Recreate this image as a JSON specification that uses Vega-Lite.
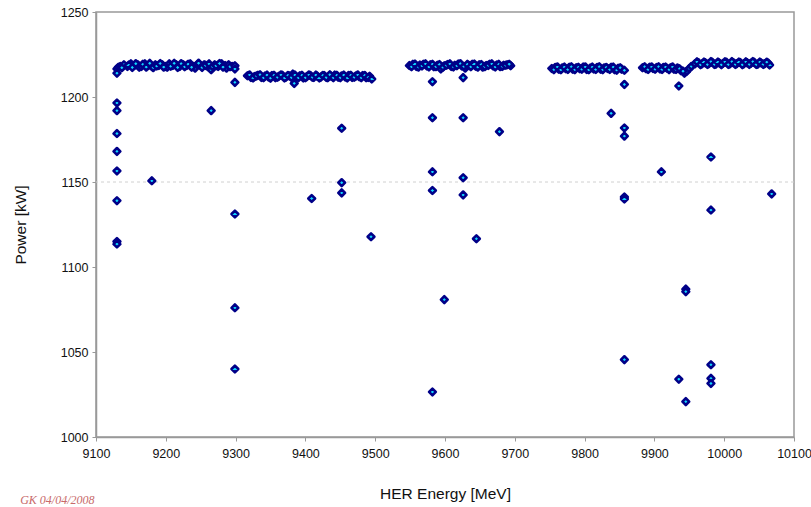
{
  "$schema": "https://vega.github.io/schema/vega-lite/v6.json",
  "width": 698,
  "height": 425,
  "autosize": {"type": "none"},
  "padding": {"left": 96, "top": 12, "right": 17, "bottom": 70},
  "background": "white",
  "config": {
    "view": {"stroke": "#999999", "strokeWidth": 1.5},
    "font": "Liberation Sans",
    "axis": {
      "domainColor": "#999999", "domainWidth": 1.5, "tickColor": "#999999", "tickSize": 4,
      "labelFontSize": 12.5, "labelColor": "#111111", "titleFontSize": 15.5, "titleFontWeight": "normal",
      "titleColor": "#111111", "grid": false
    }
  },
  "title": {
    "text": "GK 04/04/2008", "orient": "bottom", "anchor": "start", "frame": "bounds",
    "offset": -7, "dx": 7, "baseline": "top", "fontSize": 12, "fontStyle": "italic", "fontWeight": "normal",
    "color": "#c86a6a", "font": "Liberation Serif"
  },
  "datasets": {
    "pts": [
      {"e":9130,"p":1216.5},{"e":9132,"p":1217.5},{"e":9135,"p":1218},{"e":9140,"p":1219},{"e":9145,"p":1218},{"e":9150,"p":1219.5},{"e":9155,"p":1218.5},{"e":9160,"p":1219},{"e":9162,"p":1217.5},{"e":9165,"p":1218},{"e":9170,"p":1219.5},{"e":9175,"p":1218.5},{"e":9180,"p":1218},{"e":9185,"p":1219},{"e":9190,"p":1218.5},{"e":9195,"p":1219},{"e":9200,"p":1218},{"e":9202,"p":1217.5},{"e":9205,"p":1219.5},{"e":9210,"p":1218.5},{"e":9215,"p":1219},{"e":9220,"p":1218},{"e":9225,"p":1219},{"e":9230,"p":1218.5},{"e":9235,"p":1219.5},{"e":9240,"p":1218},{"e":9242,"p":1217},{"e":9245,"p":1219},{"e":9250,"p":1218.5},{"e":9255,"p":1219},{"e":9260,"p":1218},{"e":9265,"p":1216},{"e":9270,"p":1219},{"e":9275,"p":1218},{"e":9280,"p":1219.5},{"e":9285,"p":1218.5},{"e":9287,"p":1217},{"e":9290,"p":1219},{"e":9295,"p":1218},
      {"e":9137,"p":1217.2},{"e":9147,"p":1218.8},{"e":9152,"p":1217.4},{"e":9157,"p":1219.6},{"e":9167,"p":1219.2},{"e":9172,"p":1217.6},{"e":9177,"p":1219.8},{"e":9182,"p":1217.3},{"e":9187,"p":1218.2},{"e":9192,"p":1219.7},{"e":9197,"p":1217.6},{"e":9207,"p":1218.1},{"e":9212,"p":1219.8},{"e":9217,"p":1217.4},{"e":9222,"p":1219.6},{"e":9227,"p":1217.8},{"e":9232,"p":1219.3},{"e":9237,"p":1217.5},{"e":9247,"p":1219.9},{"e":9252,"p":1217.4},{"e":9257,"p":1218.6},{"e":9262,"p":1219.5},{"e":9267,"p":1217.8},{"e":9272,"p":1218.4},{"e":9277,"p":1219.7},{"e":9282,"p":1217.6},{"e":9292,"p":1217.8},
      {"e":9317,"p":1212.5},{"e":9322,"p":1211.5},{"e":9327,"p":1212},{"e":9332,"p":1212.8},{"e":9337,"p":1211.5},{"e":9342,"p":1212.3},{"e":9347,"p":1211.8},{"e":9352,"p":1212.6},{"e":9357,"p":1211.4},{"e":9362,"p":1212.2},{"e":9367,"p":1212.8},{"e":9372,"p":1211.6},{"e":9377,"p":1212.4},{"e":9382,"p":1213.5},{"e":9387,"p":1211.8},{"e":9392,"p":1212.5},{"e":9397,"p":1211.2},{"e":9402,"p":1212},{"e":9407,"p":1212.7},{"e":9412,"p":1211.5},{"e":9417,"p":1212.3},{"e":9422,"p":1211.7},{"e":9427,"p":1212.6},{"e":9432,"p":1211.3},{"e":9437,"p":1212.2},{"e":9442,"p":1212.9},{"e":9447,"p":1211.6},{"e":9452,"p":1212.4},{"e":9457,"p":1211.8},{"e":9462,"p":1212.7},{"e":9467,"p":1211.5},{"e":9472,"p":1212.3},{"e":9477,"p":1211.9},{"e":9482,"p":1212.6},{"e":9487,"p":1211.4},{"e":9492,"p":1212.2},
      {"e":9320,"p":1213},{"e":9325,"p":1211.2},{"e":9330,"p":1212.4},{"e":9335,"p":1213.1},{"e":9340,"p":1211.3},{"e":9345,"p":1212.9},{"e":9350,"p":1211.1},{"e":9355,"p":1212.8},{"e":9360,"p":1211.6},{"e":9365,"p":1213},{"e":9370,"p":1211.2},{"e":9375,"p":1212.7},{"e":9380,"p":1211.5},{"e":9385,"p":1212.9},{"e":9390,"p":1211.3},{"e":9395,"p":1212.8},{"e":9400,"p":1211.4},{"e":9405,"p":1213},{"e":9410,"p":1211.6},{"e":9415,"p":1212.9},{"e":9420,"p":1211.2},{"e":9425,"p":1212.7},{"e":9430,"p":1211.5},{"e":9435,"p":1213.1},{"e":9440,"p":1211.3},{"e":9445,"p":1212.8},{"e":9450,"p":1211.4},{"e":9455,"p":1212.9},{"e":9460,"p":1211.2},{"e":9465,"p":1212.8},{"e":9470,"p":1211.6},{"e":9475,"p":1213},{"e":9480,"p":1211.3},{"e":9485,"p":1212.7},{"e":9490,"p":1211.5},
      {"e":9549,"p":1218.5},{"e":9554,"p":1219.2},{"e":9559,"p":1218},{"e":9564,"p":1218.8},{"e":9569,"p":1219.3},{"e":9574,"p":1218.2},{"e":9579,"p":1218.9},{"e":9584,"p":1217.8},{"e":9589,"p":1218.6},{"e":9594,"p":1216.5},{"e":9599,"p":1218.4},{"e":9604,"p":1219.1},{"e":9609,"p":1218},{"e":9614,"p":1218.7},{"e":9619,"p":1219.4},{"e":9624,"p":1218.3},{"e":9629,"p":1217},{"e":9634,"p":1218.6},{"e":9639,"p":1219.2},{"e":9644,"p":1218.1},{"e":9649,"p":1218.9},{"e":9654,"p":1217.6},{"e":9659,"p":1218.5},{"e":9664,"p":1219.3},{"e":9669,"p":1218.2},{"e":9674,"p":1218.8},{"e":9679,"p":1217.9},{"e":9684,"p":1218.6},{"e":9689,"p":1219},{"e":9694,"p":1218.4},
      {"e":9552,"p":1217.8},{"e":9557,"p":1219.4},{"e":9562,"p":1217.6},{"e":9567,"p":1218.3},{"e":9572,"p":1219.5},{"e":9577,"p":1217.7},{"e":9582,"p":1219.3},{"e":9587,"p":1217.9},{"e":9592,"p":1219.1},{"e":9597,"p":1217.5},{"e":9602,"p":1218.7},{"e":9607,"p":1219.5},{"e":9612,"p":1217.7},{"e":9617,"p":1218.4},{"e":9622,"p":1219.6},{"e":9627,"p":1218},{"e":9632,"p":1219.2},{"e":9637,"p":1217.8},{"e":9642,"p":1219.4},{"e":9647,"p":1217.6},{"e":9652,"p":1219.1},{"e":9657,"p":1217.9},{"e":9662,"p":1218.6},{"e":9667,"p":1219.5},{"e":9672,"p":1217.7},{"e":9677,"p":1219.2},{"e":9682,"p":1218},{"e":9687,"p":1218.7},{"e":9692,"p":1219.3},
      {"e":9753,"p":1216.8},{"e":9758,"p":1217.4},{"e":9763,"p":1216.3},{"e":9768,"p":1217.1},{"e":9773,"p":1216.6},{"e":9778,"p":1217.5},{"e":9783,"p":1216.4},{"e":9788,"p":1217.2},{"e":9793,"p":1216.7},{"e":9798,"p":1217.6},{"e":9803,"p":1216.2},{"e":9808,"p":1217},{"e":9813,"p":1216.5},{"e":9818,"p":1217.4},{"e":9823,"p":1216.3},{"e":9828,"p":1217.1},{"e":9833,"p":1216.8},{"e":9838,"p":1217.5},{"e":9843,"p":1216.1},{"e":9848,"p":1216.9},{"e":9853,"p":1216.4},
      {"e":9756,"p":1216.1},{"e":9761,"p":1217.7},{"e":9766,"p":1216},{"e":9771,"p":1217.6},{"e":9776,"p":1216.2},{"e":9781,"p":1217.8},{"e":9786,"p":1216.1},{"e":9791,"p":1217.5},{"e":9796,"p":1216.3},{"e":9801,"p":1217.7},{"e":9806,"p":1216},{"e":9811,"p":1217.6},{"e":9816,"p":1216.2},{"e":9821,"p":1217.8},{"e":9826,"p":1216.1},{"e":9831,"p":1217.4},{"e":9836,"p":1216.2},{"e":9841,"p":1217.6},{"e":9846,"p":1215.8},{"e":9851,"p":1217.2},
      {"e":9883,"p":1217.2},{"e":9888,"p":1216.6},{"e":9893,"p":1217.5},{"e":9898,"p":1216.8},{"e":9903,"p":1217.3},{"e":9908,"p":1216.5},{"e":9913,"p":1217.4},{"e":9918,"p":1216.9},{"e":9923,"p":1217.2},{"e":9928,"p":1216.4},{"e":9933,"p":1217.1},{"e":9938,"p":1215.5},{"e":9943,"p":1214},{"e":9946,"p":1215},{"e":9950,"p":1216.8},{"e":9953,"p":1218},
      {"e":9886,"p":1217.8},{"e":9891,"p":1216.2},{"e":9896,"p":1217.7},{"e":9901,"p":1216.3},{"e":9906,"p":1217.8},{"e":9911,"p":1216.2},{"e":9916,"p":1217.6},{"e":9921,"p":1216.1},{"e":9926,"p":1217.7},{"e":9931,"p":1216.2},{"e":9936,"p":1216.6},{"e":9941,"p":1215.2},
      {"e":9958,"p":1219.5},{"e":9963,"p":1220.2},{"e":9968,"p":1219.4},{"e":9973,"p":1220.1},{"e":9978,"p":1219.6},{"e":9983,"p":1220.4},{"e":9988,"p":1219.3},{"e":9993,"p":1220},{"e":9998,"p":1219.7},{"e":10003,"p":1220.5},{"e":10008,"p":1219.4},{"e":10013,"p":1220.2},{"e":10018,"p":1219.6},{"e":10023,"p":1220.3},{"e":10028,"p":1219.5},{"e":10033,"p":1220.1},{"e":10038,"p":1219.8},{"e":10043,"p":1220.4},{"e":10048,"p":1219.3},{"e":10053,"p":1220},{"e":10058,"p":1219.6},{"e":10063,"p":1219.9},{"e":10065,"p":1218.8},
      {"e":9961,"p":1220.7},{"e":9966,"p":1219},{"e":9971,"p":1220.6},{"e":9976,"p":1219.1},{"e":9981,"p":1220.8},{"e":9986,"p":1219.2},{"e":9991,"p":1220.6},{"e":9996,"p":1219},{"e":10001,"p":1220.7},{"e":10006,"p":1219.1},{"e":10011,"p":1220.8},{"e":10016,"p":1219.2},{"e":10021,"p":1220.6},{"e":10026,"p":1219},{"e":10031,"p":1220.7},{"e":10036,"p":1219.2},{"e":10041,"p":1220.8},{"e":10046,"p":1219.1},{"e":10051,"p":1220.6},{"e":10056,"p":1219.2},{"e":10061,"p":1220.5},
      {"e":9130,"p":1214},{"e":9130,"p":1196.5},{"e":9130,"p":1192},{"e":9130,"p":1178.5},{"e":9130,"p":1168},{"e":9130,"p":1156.5},{"e":9130,"p":1139},{"e":9130,"p":1115},{"e":9130,"p":1113.5},
      {"e":9180,"p":1150.7},{"e":9265,"p":1192},
      {"e":9299,"p":1218.4},{"e":9299,"p":1216.5},{"e":9299,"p":1208.6},{"e":9299,"p":1131.2},{"e":9299,"p":1076},{"e":9299,"p":1040},
      {"e":9384,"p":1208},{"e":9409,"p":1140.3},
      {"e":9452,"p":1181.6},{"e":9452,"p":1149.6},{"e":9452,"p":1143.6},
      {"e":9495,"p":1210.6},{"e":9494,"p":1117.8},
      {"e":9582,"p":1209},{"e":9582,"p":1187.8},{"e":9582,"p":1156},{"e":9582,"p":1145},{"e":9582,"p":1026.5},
      {"e":9599,"p":1080.8},
      {"e":9626,"p":1211.4},{"e":9626,"p":1187.8},{"e":9626,"p":1152.5},{"e":9626,"p":1142.4},
      {"e":9645,"p":1116.6},{"e":9678,"p":1179.6},
      {"e":9838,"p":1190.4},
      {"e":9857,"p":1215.7},{"e":9857,"p":1207.4},{"e":9857,"p":1181.8},{"e":9857,"p":1177},{"e":9857,"p":1141.2},{"e":9857,"p":1140},{"e":9857,"p":1045.5},
      {"e":9910,"p":1156},
      {"e":9935,"p":1206.5},{"e":9935,"p":1034},
      {"e":9945,"p":1087},{"e":9945,"p":1085.5},{"e":9945,"p":1020.8},
      {"e":9981,"p":1164.7},{"e":9981,"p":1133.5},{"e":9981,"p":1042.5},{"e":9981,"p":1034.5},{"e":9981,"p":1031.5},
      {"e":10068,"p":1143}
    ]
  },
  "layer": [
    {
      "data": {"values": [{"p": 1150}]},
      "mark": {"type": "rule", "color": "#d0d0d0", "strokeDash": [3, 3], "strokeWidth": 1},
      "encoding": {"y": {"field": "p", "type": "quantitative", "scale": {"domain": [1000, 1250], "nice": false}}}
    },
    {
      "data": {"name": "pts"},
      "mark": {"type": "point", "shape": "diamond", "size": 46, "filled": true, "fill": "#10d8ff", "stroke": "#000088", "strokeWidth": 2.6, "strokeJoin": "round", "opacity": 1},
      "encoding": {
        "x": {
          "field": "e", "type": "quantitative",
          "scale": {"domain": [9100, 10100], "nice": false, "zero": false},
          "axis": {"values": [9100, 9200, 9300, 9400, 9500, 9600, 9700, 9800, 9900, 10000, 10100], "format": "d", "labelFlush": false, "labelPadding": 6, "title": "HER Energy [MeV]", "titlePadding": 27}
        },
        "y": {
          "field": "p", "type": "quantitative",
          "scale": {"domain": [1000, 1250], "nice": false, "zero": false},
          "axis": {"values": [1000, 1050, 1100, 1150, 1200, 1250], "format": "d", "labelPadding": 4, "title": "Power [kW]", "titlePadding": 32}
        }
      }
    }
  ]
}
